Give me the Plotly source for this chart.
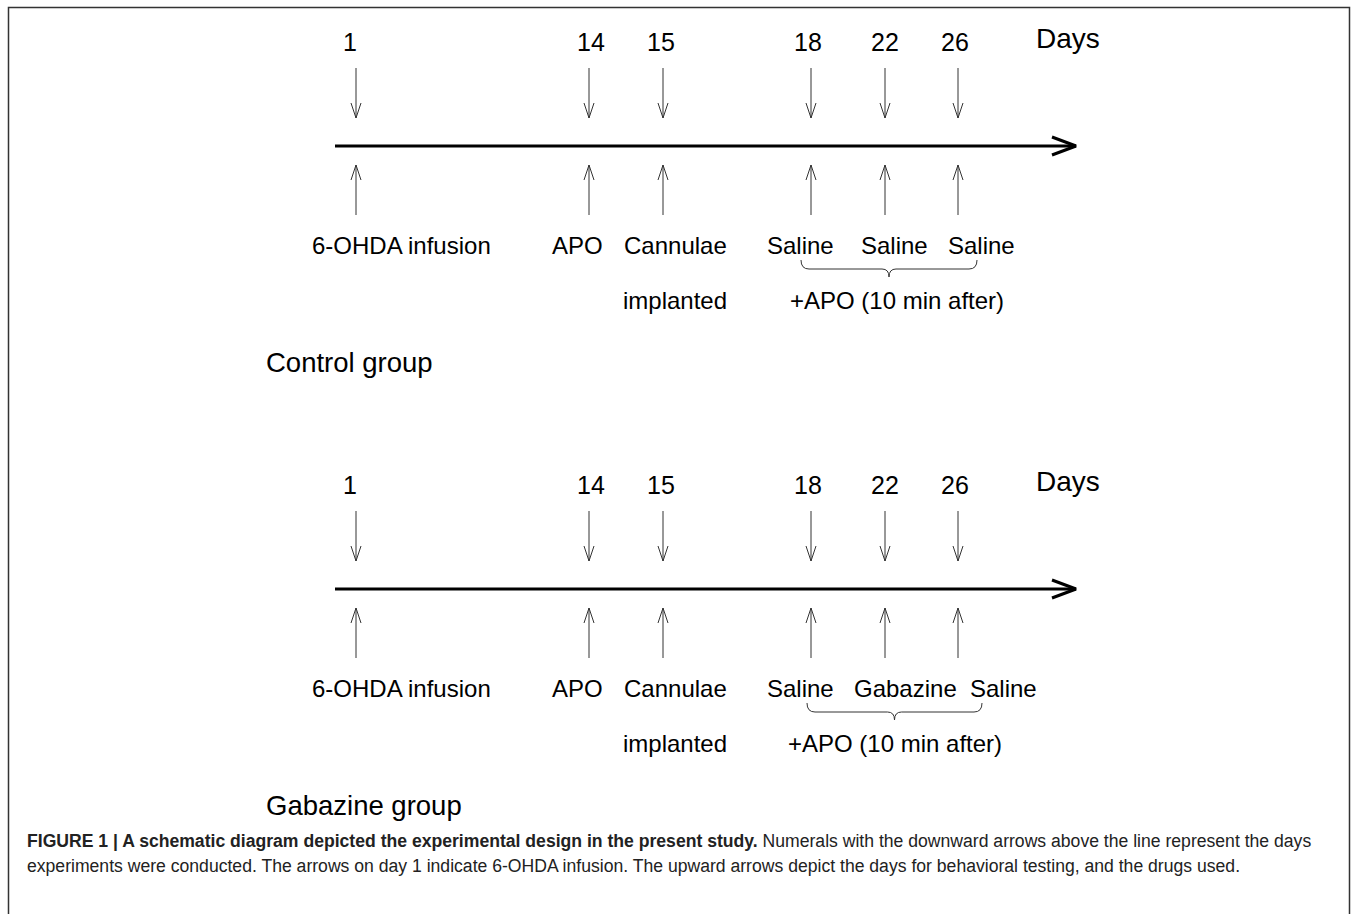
import plotly.graph_objects as go

# ---- data ----
days = [1, 14, 15, 18, 22, 26]
unit = "Days"
pre_events = ["6-OHDA infusion", "APO", "Cannulae"]
pre_events_sub = ["", "", "implanted"]
groups = ["Control group", "Gabazine group"]
tests = {
    "Control group": ["Saline", "Saline", "Saline"],
    "Gabazine group": ["Saline", "Gabazine", "Saline"],
}
test_note = "+APO (10 min after)"
caption_bold = "FIGURE 1 | A schematic diagram depicted the experimental design in the present study."
caption_lines = [
    " Numerals with the downward arrows above the line represent the days",
    "experiments were conducted. The arrows on day 1 indicate 6-OHDA infusion. The upward arrows depict the days for behavioral testing, and the drugs used.",
]

# ---- layout (pixel-like schematic coordinates) ----
W, H = 1355, 914
day_x = [356, 589, 663, 811, 885, 958]
num_x = [350, 591, 661, 808, 885, 955]
pre_x = [401, 577, 675]
test_x = {"Control group": [800, 894, 981], "Gabazine group": [800, 905, 1003]}
brace_x = {"Control group": (801, 977), "Gabazine group": (807, 982)}
note_x = {"Control group": 897, "Gabazine group": 895}
panel_dy = [0, 443]

FONT = "Liberation Sans, Arial, sans-serif"
CAP_FONT = "Liberation Sans, Arial, sans-serif"

fig = go.Figure()
annotations = []
shapes = []

for g, dy in zip(groups, panel_dy):
    # thin day arrows
    xs, ys = [], []
    for x in day_x:
        # downward arrow
        xs += [x, x, None, x - 5, x, x + 5, None]
        ys += [dy + 68, dy + 118, None, dy + 103, dy + 118, dy + 103, None]
        # upward arrow
        xs += [x, x, None, x - 5, x, x + 5, None]
        ys += [dy + 215, dy + 165, None, dy + 180, dy + 165, dy + 180, None]
    fig.add_trace(go.Scatter(x=xs, y=ys, mode="lines",
                             line=dict(color="#333333", width=1),
                             hoverinfo="skip", showlegend=False))
    # main time line
    fig.add_trace(go.Scatter(
        x=[335, 1076, None, 1052, 1076, 1052],
        y=[dy + 146, dy + 146, None, dy + 137, dy + 146, dy + 155],
        mode="lines", line=dict(color="black", width=3),
        hoverinfo="skip", showlegend=False))

    for d, x in zip(days, num_x):
        annotations.append(dict(x=x, y=dy + 42, text=str(d), showarrow=False,
                                font=dict(size=25, color="black", family=FONT)))
    annotations.append(dict(x=1068, y=dy + 38, text=unit, showarrow=False,
                            font=dict(size=28, color="black", family=FONT)))

    for t, s, x in zip(pre_events, pre_events_sub, pre_x):
        annotations.append(dict(x=x, y=dy + 245, text=t, showarrow=False,
                                font=dict(size=24, color="black", family=FONT)))
        if s:
            annotations.append(dict(x=x, y=dy + 300, text=s, showarrow=False,
                                    font=dict(size=24, color="black", family=FONT)))
    for t, x in zip(tests[g], test_x[g]):
        annotations.append(dict(x=x, y=dy + 245, text=t, showarrow=False,
                                font=dict(size=24, color="black", family=FONT)))
    x0, x1 = brace_x[g]
    xm = (x0 + x1) / 2
    annotations.append(dict(x=note_x[g], y=dy + 300, text=test_note, showarrow=False,
                            font=dict(size=24, color="black", family=FONT)))
    yb = dy + 269
    path = (f"M {x0},{dy + 260} Q {x0},{yb} {x0 + 8},{yb} L {xm - 7},{yb} "
            f"Q {xm},{yb} {xm},{dy + 277} Q {xm},{yb} {xm + 7},{yb} "
            f"L {x1 - 8},{yb} Q {x1},{yb} {x1},{dy + 260}")
    shapes.append(dict(type="path", path=path, xref="x", yref="y",
                       line=dict(color="#333333", width=1)))

    annotations.append(dict(x=264, y=dy + 362, text=g, showarrow=False, xanchor="left",
                            font=dict(size=27.5, color="black", family=FONT)))

# caption
annotations.append(dict(x=25, y=841, xanchor="left", showarrow=False,
                        text="<b>" + caption_bold + "</b>" + caption_lines[0],
                        font=dict(size=17.6, color="#222222", family=CAP_FONT)))
annotations.append(dict(x=25, y=866, xanchor="left", showarrow=False,
                        text=caption_lines[1],
                        font=dict(size=17.6, color="#222222", family=CAP_FONT)))

# frame
shapes.append(dict(type="rect", xref="x", yref="y", x0=8.5, x1=1349.5, y0=7.5, y1=H + 10,
                   line=dict(color="#333333", width=1.5)))

fig.update_layout(
    width=W, height=H,
    margin=dict(l=0, r=0, t=0, b=0),
    paper_bgcolor="white", plot_bgcolor="white",
    xaxis=dict(range=[0, W], visible=False, fixedrange=True),
    yaxis=dict(range=[H, 0], visible=False, fixedrange=True),
    annotations=annotations, shapes=shapes,
    hovermode=False,
)

fig.write_html("out.html", config={"displayModeBar": False},
               post_script="document.body.style.margin='0';document.body.style.overflow='hidden';")
